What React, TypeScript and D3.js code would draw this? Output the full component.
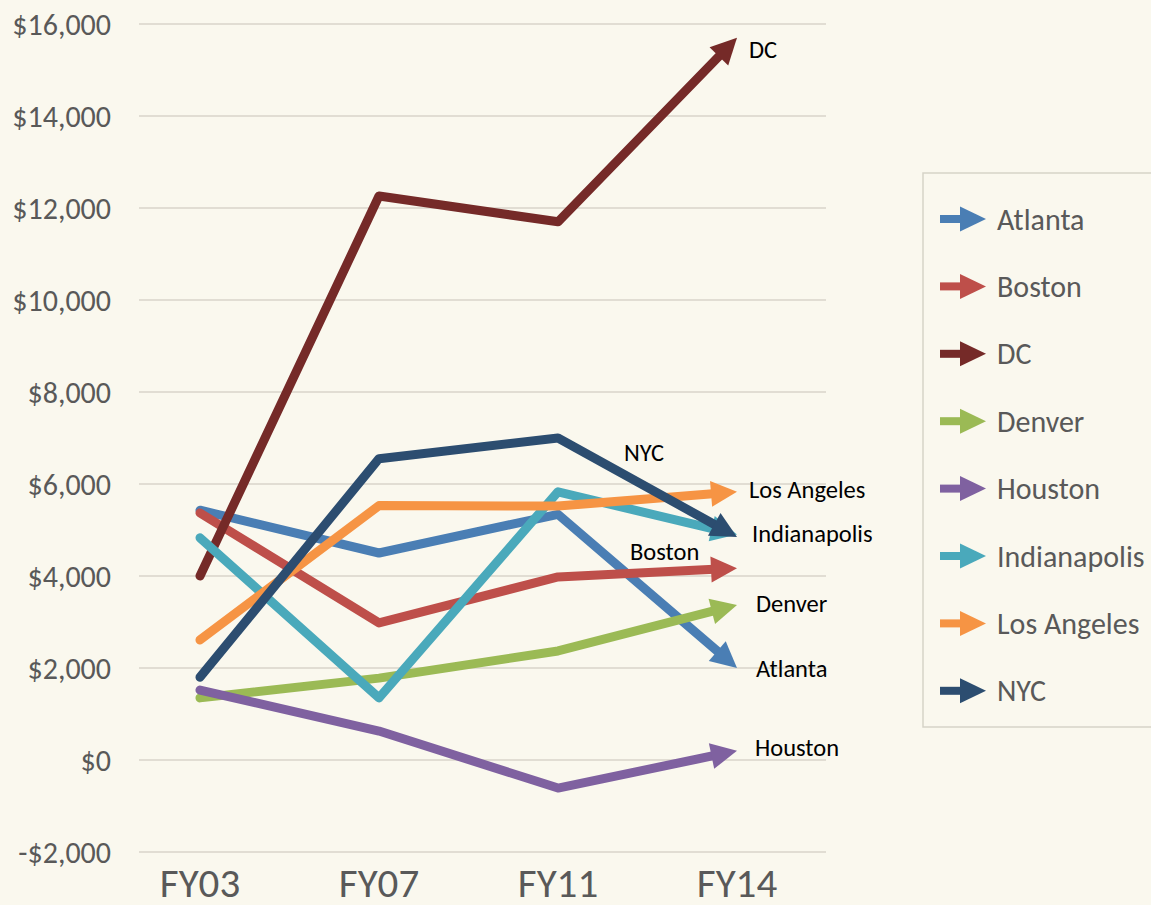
import React from "react";
import * as d3 from "d3";

const categories = ["FY03", "FY07", "FY11", "FY14"];
const cityNames = ["Atlanta", "Boston", "DC", "Denver", "Houston", "Indianapolis", "Los Angeles", "NYC"];
const atlanta = [5430, 4500, 5340, 2000];
const boston = [5370, 2980, 3980, 4170];
const dc = [4000, 12260, 11700, 15700];
const denver = [1350, 1780, 2370, 3370];
const houston = [1520, 630, -610, 200];
const indianapolis = [4830, 1350, 5830, 4900];
const losAngeles = [2610, 5530, 5520, 5830];
const nyc = [1800, 6550, 7000, 4850];
const seriesValues = [atlanta, boston, dc, denver, houston, indianapolis, losAngeles, nyc];
const colors = ["#4A7EB4", "#BE4F4A", "#752A28", "#9BBA55", "#7F61A0", "#4AA9BB", "#F69444", "#2C4D70"];
const yTicks = [-2000, 0, 2000, 4000, 6000, 8000, 10000, 12000, 14000, 16000];

// label placement relative to end point (style, not data)
const labelOffsets: Record<string, [number, number]> = {
  Atlanta: [19, 0],
  Boston: [-107, -17],
  DC: [12, 12],
  Denver: [19, -2],
  Houston: [18, -3],
  Indianapolis: [15, -1],
  "Los Angeles": [12, -2],
  NYC: [-113, -84],
};

const W = 1151;
const H = 905;
const FONT = "Carlito, Calibri, Lato, sans-serif";

export default function App() {
  const x = d3.scalePoint<string>().domain(categories).range([200, 737]);
  const y = d3.scaleLinear().domain([-2000, 16000]).range([852, 24]);
  const gridX0 = 139;
  const gridX1 = 826;
  const lineGen = d3.line<[number, number]>().x((d) => d[0]).y((d) => d[1]);
  const headLen = 26;
  const headHalf = 13;

  const series = cityNames.map((name, i) => {
    const pts: [number, number][] = seriesValues[i].map((v, j) => [x(categories[j]) as number, y(v)]);
    const tip = pts[pts.length - 1];
    const prev = pts[pts.length - 2];
    const dx = tip[0] - prev[0];
    const dy = tip[1] - prev[1];
    const len = Math.hypot(dx, dy);
    const ux = dx / len;
    const uy = dy / len;
    const shaftEnd: [number, number] = [tip[0] - ux * 18, tip[1] - uy * 18];
    const bx = tip[0] - ux * headLen;
    const by = tip[1] - uy * headLen;
    const px = -uy;
    const py = ux;
    const head = [
      [tip[0], tip[1]],
      [bx + px * headHalf, by + py * headHalf],
      [bx - px * headHalf, by - py * headHalf],
    ]
      .map((p) => p.join(","))
      .join(" ");
    const linePts = [...pts.slice(0, -1), shaftEnd];
    return { name, color: colors[i], d: lineGen(linePts) as string, head, tip };
  });

  const legendX = 923;
  const legendY = 173;
  const legendRow0 = 219;
  const legendStep = 67.4;

  return (
    <svg
      width={W}
      height={H}
      style={{ position: "absolute", left: 0, top: 0, display: "block" }}
      xmlns="http://www.w3.org/2000/svg"
    >
      <rect x={0} y={0} width={W} height={H} fill="#FAF8EE" />
      {yTicks.map((t) => (
        <g key={t}>
          <line x1={gridX0} x2={gridX1} y1={y(t)} y2={y(t)} stroke="#D8D5CA" strokeWidth={1.5} />
          <text
            x={111}
            y={y(t)}
            dy="0.35em"
            textAnchor="end"
            fontFamily={FONT}
            fontSize={30}
            fill="#595959"
          >
            {d3.format("$,")(t).replace("$-", "-$").replace("−", "-")}
          </text>
        </g>
      ))}
      {categories.map((c) => (
        <text
          key={c}
          x={x(c) as number}
          y={897}
          textAnchor="middle"
          fontFamily={FONT}
          fontSize={41}
          fill="#595959"
        >
          {c}
        </text>
      ))}
      {series.map((s) => (
        <g key={s.name}>
          <path d={s.d} fill="none" stroke={s.color} strokeWidth={9} strokeLinecap="round" strokeLinejoin="round" />
          <polygon points={s.head} fill={s.color} />
        </g>
      ))}
      {series.map((s) => (
        <text
          key={"lbl" + s.name}
          x={s.tip[0] + labelOffsets[s.name][0]}
          y={s.tip[1] + labelOffsets[s.name][1]}
          dy="0.35em"
          fontFamily={FONT}
          fontSize={24.5}
          fill="#000"
        >
          {s.name}
        </text>
      ))}
      <rect x={legendX} y={legendY} width={260} height={554} fill="none" stroke="#D6D3C8" strokeWidth={1.5} />
      {series.map((s, i) => {
        const cy = legendRow0 + i * legendStep;
        return (
          <g key={"leg" + s.name}>
            <rect x={940} y={cy - 4} width={22} height={8} fill={s.color} />
            <polygon points={`${960},${cy - 12.5} ${986},${cy} ${960},${cy + 12.5}`} fill={s.color} />
            <text x={997} y={cy} dy="0.35em" fontFamily={FONT} fontSize={30} fill="#595959">
              {s.name}
            </text>
          </g>
        );
      })}
    </svg>
  );
}
